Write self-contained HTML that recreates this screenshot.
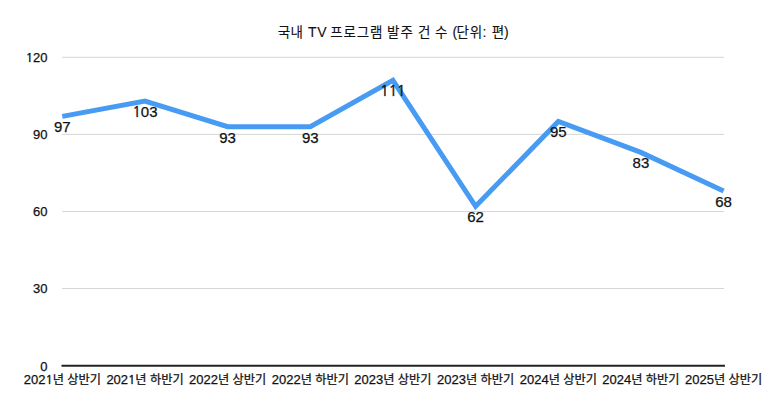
<!DOCTYPE html>
<html lang="ko">
<head>
<meta charset="utf-8">
<title>국내 TV 프로그램 발주 건 수</title>
<style>
html,body{margin:0;padding:0;background:#fff;}
body{width:780px;height:409px;overflow:hidden;}
svg{display:block;}
text{font-family:"Liberation Sans","Noto Sans CJK KR",sans-serif;fill:#111;stroke:#111;stroke-width:0.25px;}
.k{font-family:"Noto Sans CJK KR",sans-serif;font-size:12.2px;}
.title{font-size:14px;stroke-width:0.12px;}
.tk{font-family:"Noto Sans CJK KR",sans-serif;font-size:13.5px;}
.tl{font-family:"Liberation Sans",sans-serif;font-size:14.0px;}
.ax{font-size:13px;}
.o{font-family:"NanumGothic","Liberation Sans",sans-serif;font-size:0.923em;stroke-width:0.45px;}
.dl{font-size:15px;}
</style>
</head>
<body>
<svg width="780" height="409" viewBox="0 0 780 409">
<rect width="780" height="409" fill="#fff"/>
<text class="title" y="37.2"><tspan class="tk" x="277.7 290.6 303.1">국내 </tspan><tspan class="tl" x="308.0 317.2 325.6">TV </tspan><tspan class="tk" x="330.2 343.4 356.8 369.9 382.3">프로그램 </tspan><tspan class="tk" x="387.1 400.4 412.8">발주 </tspan><tspan class="tk" x="417.9 430.4">건 </tspan><tspan class="tk" x="435.0 447.4">수 </tspan><tspan class="tl" x="452.4">(</tspan><tspan class="tk" x="456.6 469.7">단위</tspan><tspan class="tl" x="482.6 491.0">: </tspan><tspan class="tk" x="491.7">편</tspan><tspan class="tl" x="504.1">)</tspan></text>
<g stroke="#d6d6d6" stroke-width="1" fill="none">
<line x1="62" y1="57.3" x2="724" y2="57.3"/>
<line x1="62" y1="134.4" x2="724" y2="134.4"/>
<line x1="62" y1="211.5" x2="724" y2="211.5"/>
<line x1="62" y1="288.5" x2="724" y2="288.5"/>
</g>
<line x1="61.5" y1="365.7" x2="725" y2="365.7" stroke="#222" stroke-width="2"/>
<g class="ax" text-anchor="end">
<text x="47.5" y="62"><tspan class="o">1</tspan>20</text>
<text x="47.5" y="139">90</text>
<text x="47.5" y="216">60</text>
<text x="47.5" y="293">30</text>
<text x="47.5" y="371">0</text>
</g>
<g class="ax" text-anchor="middle">
<text x="62.3" y="384">202<tspan class="o">1</tspan><tspan class="k">년 상반기</tspan></text>
<text x="145.0" y="384">202<tspan class="o">1</tspan><tspan class="k">년 하반기</tspan></text>
<text x="227.6" y="384">2022<tspan class="k">년 상반기</tspan></text>
<text x="310.3" y="384">2022<tspan class="k">년 하반기</tspan></text>
<text x="392.9" y="384">2023<tspan class="k">년 상반기</tspan></text>
<text x="475.6" y="384">2023<tspan class="k">년 하반기</tspan></text>
<text x="558.3" y="384">2024<tspan class="k">년 상반기</tspan></text>
<text x="640.9" y="384">2024<tspan class="k">년 하반기</tspan></text>
<text x="723.6" y="384">2025<tspan class="k">년 상반기</tspan></text>
</g>
<polyline points="62.3,116.4 145.0,101.0 227.6,126.7 310.3,126.7 392.9,80.4 475.6,206.3 558.3,121.5 640.9,152.4 723.6,190.9" fill="none" stroke="#489bf3" stroke-width="5" stroke-linejoin="miter" stroke-linecap="butt"/>
<g class="dl" text-anchor="middle">
<text x="62.3" y="132.2">97</text>
<text x="145.0" y="116.8"><tspan class="o">1</tspan>03</text>
<text x="227.6" y="142.5">93</text>
<text x="310.3" y="142.5">93</text>
<text x="392.9" y="96.2"><tspan class="o">1</tspan><tspan class="o">1</tspan><tspan class="o">1</tspan></text>
<text x="475.6" y="222.1">62</text>
<text x="558.3" y="137.3">95</text>
<text x="640.9" y="168.2">83</text>
<text x="723.6" y="206.7">68</text>
</g>
</svg>
</body>
</html>
